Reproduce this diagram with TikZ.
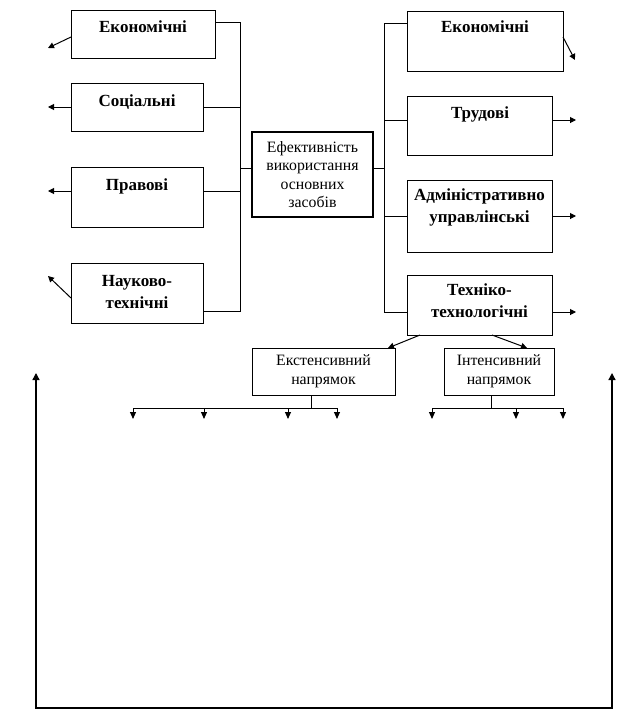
\documentclass[tikz,border=0pt]{standalone}
\usepackage{fontspec}
\setmainfont{Liberation Serif}
\usetikzlibrary{arrows.meta}
\begin{document}
\begin{tikzpicture}[x=1pt,y=-1pt,
  box/.style={draw,line width=1pt,rectangle,anchor=north west,inner sep=0pt,outer sep=0pt},
  cbox/.style={box,line width=2.5pt},
  bt/.style={font=\bfseries\fontsize{17}{22}\selectfont,align=center,inner sep=0pt},
  rt/.style={font=\fontsize{15.8}{18.5}\selectfont,align=center,inner sep=0pt},
  ln/.style={line width=1pt},
  arr/.style={line width=1pt,-{Triangle[length=6pt,width=6pt]}},
  darr/.style={line width=1pt,-{Triangle[length=7pt,width=6pt]}},
  loop/.style={line width=1.3pt,{Triangle[length=7pt,width=7pt]}-{Triangle[length=7pt,width=7pt]}},
]
\useasboundingbox (0,0) rectangle (618,709);

% left column
\node[box,minimum width=144pt,minimum height=48pt] (L1) at (71,11) {};
\node[bt,anchor=base] (L1t) at (143,33) {Економічні};
\node[box,minimum width=132pt,minimum height=48pt] (L2) at (71,83) {};
\node[bt,anchor=base] (L2t) at (137,106) {Соціальні};
\node[box,minimum width=132pt,minimum height=60pt] (L3) at (71,167) {};
\node[bt,anchor=base] (L3t) at (137,190) {Правові};
\node[box,minimum width=132pt,minimum height=60pt] (L4) at (71,263) {};
\node[bt] (L4t) at (137,292.5) {Науково-\\технічні};

% centre
\node[cbox,minimum width=121pt,minimum height=85pt] (C) at (252,132) {};
\node[rt] (Ct) at (C.center) {Ефективність\\використання\\основних\\засобів};

% right column
\node[box,minimum width=156pt,minimum height=59pt] (R1) at (407,12) {};
\node[bt,anchor=base] (R1t) at (485,33) {Економічні};
\node[box,minimum width=145pt,minimum height=59pt] (R2) at (407,96) {};
\node[bt,anchor=base] (R2t) at (480,118) {Трудові};
\node[box,minimum width=145pt,minimum height=72pt] (R3) at (407,180) {};
\node[bt] (R3t) at (479.5,207.4) {Адміністративно\\управлінські};
\node[box,minimum width=145pt,minimum height=60pt] (R4) at (407,275) {};
\node[bt] (R4t) at (479.5,300.5) {Техніко-\\технологічні};

% lower boxes
\node[box,minimum width=143pt,minimum height=47pt] (E) at (252,348) {};
\node[rt] (Et) at (E.center) {Екстенсивний\\напрямок};
\node[box,minimum width=110pt,minimum height=47pt] (I) at (444,348) {};
\node[rt] (It) at (I.center) {Інтенсивний\\напрямок};

% left bus
\coordinate (lbT) at (240,23);
\coordinate (lbB) at (240,311);
\coordinate (l3y) at (240,191);
\coordinate (lcC) at (240,168);
\draw[ln] (L1.east |- lbT) -- (lbT) -- (lbB) -- (L4.east |- lbB);
\draw[ln] (L2.east) -- (L2.east -| lbT);
\draw[ln] (L3.east |- l3y) -- (l3y);
\draw[ln] (lcC) -- (C.west |- lcC);

% right bus
\coordinate (rbT) at (384,24);
\coordinate (rbB) at (384,312);
\coordinate (r2y) at (384,120);
\coordinate (r3y) at (384,216);
\coordinate (rcC) at (384,168);
\draw[ln] (R1.west |- rbT) -- (rbT) -- (rbB) -- (R4.west |- rbB);
\draw[ln] (r2y) -- (R2.west |- r2y);
\draw[ln] (r3y) -- (R3.west |- r3y);
\draw[ln] (C.east |- rcC) -- (rcC);

% outward arrows, left
\coordinate (a1) at (48,48);
\coordinate (a2) at (48,107);
\coordinate (a3) at (48,191);
\coordinate (a4) at (48,276);
\draw[arr] ([yshift=-26pt]L1.north west) -- (a1);
\draw[arr] (L2.west) -- (a2);
\draw[arr] ([yshift=-24pt]L3.north west) -- (a3);
\draw[arr] ([yshift=-35pt]L4.north west) -- (a4);

% outward arrows, right
\coordinate (b1) at (575,60);
\coordinate (b2) at (576,120);
\coordinate (b3) at (576,216);
\coordinate (b4) at (576,312);
\draw[arr] ([yshift=-25pt]R1.north east) -- (b1);
\draw[arr] ([yshift=-24pt]R2.north east) -- (b2);
\draw[arr] (R3.east) -- (b3);
\draw[arr] ([yshift=-37pt]R4.north east) -- (b4);

% to lower boxes
\draw[arr] ([xshift=13pt]R4.south west) -- ([xshift=-7pt]E.north east);
\draw[arr] ([xshift=85pt]R4.south west) -- ([xshift=83pt]I.north west);

% extensive tree
\coordinate (eL) at (133,408);
\coordinate (eR) at (337,408);
\draw[ln] ([xshift=-12.5pt]E.south) -- ([xshift=-12.5pt]E.south |- eL);
\draw[ln] (eL) -- (eR);
\foreach \x [count=\i] in {133,204,288,337} {
  \coordinate (es\i) at (\x,408);
  \coordinate (ee\i) at (\x,419);
  \draw[darr] (es\i) -- (ee\i);
}

% intensive tree
\coordinate (iL) at (432,408);
\coordinate (iR) at (563,408);
\draw[ln] ([xshift=-8pt]I.south) -- ([xshift=-8pt]I.south |- iL);
\draw[ln] (iL) -- (iR);
\foreach \x [count=\i] in {432,516,563} {
  \coordinate (is\i) at (\x,408);
  \coordinate (ie\i) at (\x,419);
  \draw[darr] (is\i) -- (ie\i);
}

% big return loop
\coordinate (lt) at (36,373);
\coordinate (lb) at (36,708);
\coordinate (rb) at (612,708);
\coordinate (rt) at (612,373);
\draw[loop] (lt) -- (lb) -- (rb) -- (rt);
\end{tikzpicture}
\end{document}
